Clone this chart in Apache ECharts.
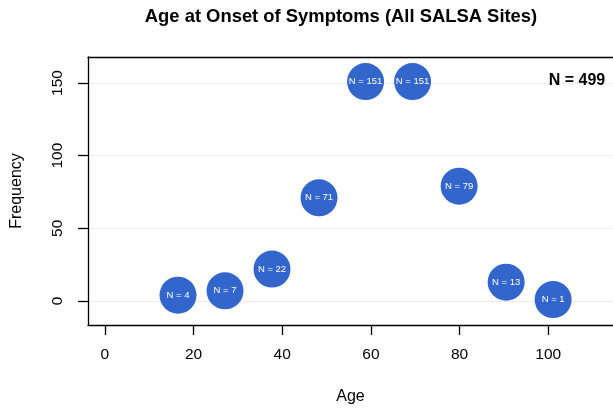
<!DOCTYPE html>
<html><head><meta charset="utf-8">
<script src="https://cdn.jsdelivr.net/npm/echarts@6/dist/echarts.min.js"></script>
<style>html,body{margin:0;padding:0;background:#fff}#c{width:613px;height:410px}</style>
</head><body><div id="c"></div>
<script>
const ages = [16.5, 27.1, 37.7, 48.3, 58.8, 69.4, 79.9, 90.5, 101.1];
const counts = [4, 7, 22, 71, 151, 151, 79, 13, 1];
const xTicks = [0, 20, 40, 60, 80, 100];
const yTicks = [0, 50, 100, 150];
const totalLabel = 'N = 499';
const titleText = 'Age at Onset of Symptoms (All SALSA Sites)';

const font = 'Liberation Sans, Arial, Helvetica, sans-serif';
const frameLine = {show: true, onZero: false, lineStyle: {color: '#000', width: 1.3}};
const chart = echarts.init(document.getElementById('c'), null, {renderer: 'canvas'});
chart.setOption({
  animation: false,
  backgroundColor: '#fff',
  grid: {left: 88, top: 57, bottom: 85, right: 0, show: false},
  xAxis: [{
    type: 'value', min: -3.8, max: 114.6, position: 'bottom',
    name: 'Age', nameLocation: 'middle', nameGap: 64,
    nameTextStyle: {fontFamily: font, fontSize: 16, color: '#000'},
    axisLine: frameLine,
    axisTick: {show: true, length: 10, customValues: xTicks, lineStyle: {color: '#000', width: 1.3}},
    axisLabel: {customValues: xTicks, margin: 22, fontFamily: font, fontSize: 15.5, color: '#000'},
    splitLine: {show: false}
  }, {
    type: 'value', min: -3.8, max: 114.6, position: 'top',
    axisLine: frameLine, axisTick: {show: false}, axisLabel: {show: false}, splitLine: {show: false}
  }],
  yAxis: {
    type: 'value', min: -16.5, max: 167.9,
    name: 'Frequency', nameLocation: 'middle', nameGap: 63, nameRotate: 90,
    nameTextStyle: {fontFamily: font, fontSize: 16, color: '#000'},
    axisLine: frameLine,
    axisTick: {show: true, length: 10, customValues: yTicks, lineStyle: {color: '#000', width: 1.3}},
    axisLabel: {customValues: yTicks, rotate: 90, margin: 22, fontFamily: font, fontSize: 15.5, color: '#000'},
    splitLine: {show: true, lineStyle: {color: '#ececec', width: 1}}
  },
  graphic: [{
    type: 'text', x: 341, y: 17, z: 100,
    style: {text: titleText, font: 'bold 18.4px ' + font, fill: '#000', align: 'center', verticalAlign: 'middle'}
  }, {
    type: 'text', x: 577, y: 81, z: 100,
    style: {text: totalLabel, font: 'bold 16px ' + font, fill: '#000', align: 'center', verticalAlign: 'middle'}
  }],
  series: [{
    type: 'scatter', xAxisIndex: 0,
    data: ages.map((a, i) => [a, counts[i]]),
    symbol: 'circle', symbolSize: 37,
    itemStyle: {color: '#3366CC', opacity: 1},
    label: {show: true, position: 'inside', formatter: p => 'N = ' + p.value[1], color: '#fff', fontFamily: font, fontSize: 9.5}
  }]
});
</script></body></html>
